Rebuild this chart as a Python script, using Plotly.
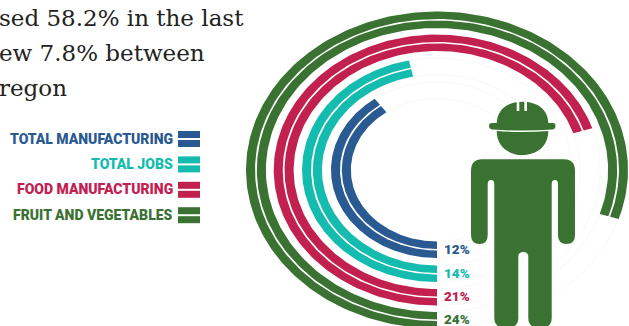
import numpy as np
import plotly.graph_objects as go

# Share of jobs per category, innermost ring first
categories = ["TOTAL MANUFACTURING", "TOTAL JOBS", "FOOD MANUFACTURING", "FRUIT AND VEGETABLES"]
shares = [12, 14, 21, 24]
ring_outer = [88, 112, 135.5, 158.5]
colors = ["#2a5a92", "#13bcae", "#c2204f", "#3a7232"]
legend_order = [0, 1, 2, 3]
intro_lines = ["sed 58.2% in the last", "ew 7.8% between", "regon"]

FULL_TURN_SHARE = 30      # a share of 30% sweeps the whole circle
STRIP = 7.5
GAP = 1.5
X_STRETCH = 1.205
WIDTH, HEIGHT = 629, 326
CX, CY = 437, 170


def ring_xy(radius, sweep_deg):
    """Points on a ring, starting at the bottom and running clockwise."""
    t = np.radians(np.linspace(0, sweep_deg, 240))
    return -radius * np.sin(t), -radius * np.cos(t)


def strip_xy(r_in, r_out, sweep_deg):
    xo, yo = ring_xy(r_out, sweep_deg)
    xi, yi = ring_xy(r_in, sweep_deg)
    return np.r_[xo, xi[::-1], xo[0]], np.r_[yo, yi[::-1], yo[0]]


fig = go.Figure()

# Faint tracks for the unused part of each ring
for outer, share in zip(ring_outer, shares):
    sweep = share / FULL_TURN_SHARE * 360
    for r in (outer, outer - 2 * STRIP - GAP):
        t = np.radians(np.linspace(sweep, 360, 160))
        fig.add_trace(go.Scatter(x=-r * np.sin(t), y=-r * np.cos(t), mode="lines",
                                 line=dict(color="#f9f9f9", width=1),
                                 hoverinfo="skip", showlegend=False))

# Each ring is a pair of thin strips with a white gap between them
for name, outer, share, color in zip(categories, ring_outer, shares, colors):
    sweep = share / FULL_TURN_SHARE * 360
    for r_out in (outer, outer - STRIP - GAP):
        x, y = strip_xy(r_out - STRIP, r_out, sweep)
        fig.add_trace(go.Scatter(x=x, y=y, mode="lines", fill="toself", fillcolor=color,
                                 line=dict(width=0), name=name, showlegend=False))

shapes = []


def pixel_shape(**kw):
    shapes.append(dict(xref="x2", yref="y2", layer="above", **kw))


# Legend swatches
for row, idx in enumerate(legend_order):
    top = 131 + row * 25.4
    for off in (0, 9):
        pixel_shape(type="rect", x0=178, x1=200, y0=top + off, y1=top + off + 7,
                    fillcolor=colors[idx], line=dict(width=0))

# Worker pictogram
GREEN = colors[3]
pixel_shape(type="path", fillcolor=GREEN, line=dict(width=0),
            path="M496.7,124 C496.7,109 508,101.7 522.5,101.7 C537,101.7 548.3,109 548.3,124 Z")
pixel_shape(type="path", fillcolor=GREEN, line=dict(width=0),
            path="M492,123 H553 Q555.5,123 555.5,126 Q555.5,129.3 552,129.6 Q522.5,131.6 493,129.6 "
                 "Q489,129.3 489,126 Q489,123 492,123 Z")
pixel_shape(type="path", fillcolor=GREEN, line=dict(width=0),
            path="M496.7,131 Q522.5,133.2 548.3,131 C548.3,146 537,155 522.5,155 C508,155 496.7,146 496.7,131 Z")
for x0, x1 in ((516.7, 519.3), (524.3, 527)):
    pixel_shape(type="rect", x0=x0, x1=x1, y0=100, y1=111, fillcolor="white", line=dict(width=0))
pixel_shape(type="path", fillcolor=GREEN, line=dict(width=0),
            path="M471,171 Q471,159.3 482,159.3 H564 Q575,159.3 575,171 V235 Q575,244 566.5,244 "
                 "Q558,244 558,235 V184 Q558,180 555,180 Q551.7,180 551.7,184 V318 Q551.7,328 540,328 "
                 "Q528.3,328 528.3,318 V257 Q528.3,252 523.3,252 Q518.3,252 518.3,257 V318 "
                 "Q518.3,328 506.3,328 Q494.3,328 494.3,318 V184 Q494.3,180 491,180 Q487.7,180 487.7,184 "
                 "V235 Q487.7,244 479.5,244 Q471,244 471,235 Z")

annotations = []


def pixel_text(x, y, text, anchor, font, xshift=0):
    annotations.append(dict(xref="x2", yref="y2", x=x, y=y, text=text, showarrow=False,
                            xanchor=anchor, yanchor="middle", font=font, align=anchor,
                            borderpad=0, borderwidth=0, xshift=xshift))


# Intro paragraph, running off the left edge
for i, line in enumerate(intro_lines):
    pixel_text(0, 18 + i * 35, line, "left",
               dict(family="DejaVu Serif", size=23, color="#222222"), xshift=-1)

# Legend labels
for row, idx in enumerate(legend_order):
    pixel_text(172.5, 138.5 + row * 25.4, categories[idx], "right",
               dict(family="Roboto", size=14, weight=900, color=colors[idx]))

# Share labels at the start of each ring
for outer, share, color in zip(ring_outer, shares, colors):
    pixel_text(470, CY + outer - STRIP - GAP / 2 - 1, f"{share}%", "right",
               dict(family="Roboto", size=13.5, weight=900, color=color))

hidden = dict(visible=False, showgrid=False, zeroline=False, fixedrange=True)
fig.update_layout(
    width=WIDTH, height=HEIGHT,
    margin=dict(l=0, r=0, t=0, b=0),
    paper_bgcolor="white", plot_bgcolor="white",
    showlegend=False,
    xaxis=dict(range=[-CX / X_STRETCH, (WIDTH - CX) / X_STRETCH], **hidden),
    yaxis=dict(range=[-(HEIGHT - CY), CY], **hidden),
    xaxis2=dict(range=[0, WIDTH], overlaying="x", anchor="y2", **hidden),
    yaxis2=dict(range=[HEIGHT, 0], overlaying="y", anchor="x2", **hidden),
    shapes=shapes,
    annotations=annotations,
)
fig.write_html("out.html", config=dict(displayModeBar=False))
